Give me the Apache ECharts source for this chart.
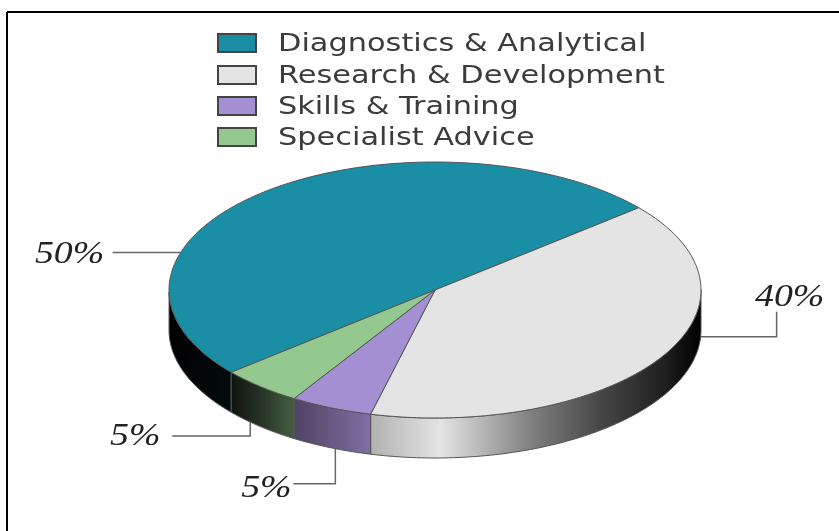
<!DOCTYPE html>
<html>
<head>
<meta charset="utf-8">
<style>
  html, body { margin: 0; padding: 0; background: #fff; }
  /* the reference is a soft, slightly upscaled image */
  #chart { width: 839px; height: 531px; filter: blur(0.6px); }
</style>
<script src="https://cdn.jsdelivr.net/npm/echarts@6/dist/echarts.min.js"></script>
</head>
<body>
<div id="chart"></div>
<script>
const categories = ['Diagnostics & Analytical', 'Research & Development', 'Skills & Training', 'Specialist Advice']
const shares = [50, 40, 5, 5]
const colors = ['#1a8ea4', '#e4e4e4', '#a48fd2', '#93c98f']

// pie geometry, the slices start at 220deg and run clockwise
const cx = 435
const cy = 290
const rx = 266
const ry = 128
const depth = 40
const startAngle = 220

// how much light the rim gets going left to right
const rimStops = [[0, 0], [0.11, 0.08], [0.17, 0.25], [0.24, 0.48], [0.38, 0.78], [0.51, 1], [0.68, 0.56], [0.81, 0.31], [0.93, 0.14], [0.98, 0.04], [1, 0]]

// leader lines: where they leave the pie, then offsets from that point
const leaders = [
  { angle: 163, rim: 0, path: [[-68, 0]], text: [-111, 2] },
  { angle: -3, rim: 1, path: [[76, 0], [76, -25]], text: [89, -39] },
  { angle: -112, rim: 1, path: [[0, 35], [-42, 35]], text: [-69, 40] },
  { angle: -134, rim: 1, path: [[0, 14], [-78, 14]], text: [-115, 15] }
]

// legend rows, drawn by hand because the source text is stretched wide
const legendBoxX = 218
const legendTextX = 278
const legendBoxY = [34, 66, 97, 128]
const legendTextY = [44, 76, 107, 138]

function point(deg, dy) {
  const a = deg * Math.PI / 180
  return [cx + rx * Math.cos(a), cy - ry * Math.sin(a) + (dy || 0)]
}

function shade(hex, k) {
  const n = parseInt(hex.slice(1), 16)
  const c = [n >> 16, (n >> 8) & 255, n & 255].map(v => Math.round(v * k))
  return 'rgb(' + c.join(',') + ')'
}

function renderSlice(params, api) {
  const i = params.seriesIndex
  const total = shares.reduce((a, b) => a + b, 0)
  const before = shares.slice(0, i).reduce((a, b) => a + b, 0)
  const a0 = startAngle - before / total * 360
  const a1 = a0 - api.value(0) / total * 360

  const arc = []
  for (let a = a0; a > a1; a -= 1) arc.push(point(a))
  arc.push(point(a1))

  // rim is only the part of the arc facing the viewer
  const front = []
  for (let a = a0; a > a1; a -= 1) {
    if (Math.sin(a * Math.PI / 180) <= 0) front.push(a)
  }
  if (Math.sin(a1 * Math.PI / 180) <= 0) front.push(a1)
  const rimTop = front.map(a => point(a))
  const rimBottom = front.map(a => point(a, depth)).reverse()

  const fill = new echarts.graphic.LinearGradient(cx - rx, 0, cx + rx, 0,
    rimStops.map(s => ({ offset: s[0], color: shade(colors[i], s[1]) })), true)

  const l = leaders[i]
  const from = point(l.angle, l.rim * depth)
  const line = [from].concat(l.path.map(p => [from[0] + p[0], from[1] + p[1]]))

  return {
    type: 'group',
    children: [
      {
        type: 'polyline',
        shape: { points: line },
        style: { stroke: '#666', lineWidth: 1.5, fill: null },
        z2: 1
      },
      {
        type: 'text',
        x: from[0] + l.text[0],
        y: from[1] + l.text[1],
        scaleX: 1.22,
        style: {
          text: api.value(0) + '%',
          font: 'italic 31px "Liberation Serif"',
          fill: '#222',
          align: 'center',
          verticalAlign: 'middle'
        },
        z2: 1
      },
      {
        type: 'polygon',
        shape: { points: rimTop.concat(rimBottom) },
        style: { fill: fill, stroke: '#555', lineWidth: 1 },
        z2: 2
      },
      {
        type: 'polygon',
        shape: { points: [[cx, cy]].concat(arc) },
        style: { fill: colors[i], stroke: '#555', lineWidth: 1 },
        z2: 3
      },
      {
        type: 'rect',
        shape: { x: legendBoxX + 1, y: legendBoxY[i] + 1, width: 38, height: 18 },
        style: { fill: '#999' },
        z2: 1
      },
      {
        type: 'rect',
        shape: { x: legendBoxX, y: legendBoxY[i], width: 38, height: 18 },
        style: { fill: colors[i], stroke: '#444', lineWidth: 2 },
        z2: 2
      },
      {
        type: 'text',
        x: legendTextX,
        y: legendTextY[i],
        scaleX: 1.215,
        style: {
          text: categories[i],
          font: '25px "DejaVu Sans"',
          fill: '#3c3c3c',
          align: 'left',
          verticalAlign: 'middle'
        },
        z2: 2
      }
    ]
  }
}

const myChart = echarts.init(document.getElementById('chart'), null, { renderer: 'canvas' })
myChart.setOption({
  animation: false,
  backgroundColor: '#fff',
  graphic: [
    { type: 'line', shape: { x1: 7, y1: 12, x2: 839, y2: 12 }, style: { stroke: '#000', lineWidth: 2 } },
    { type: 'line', shape: { x1: 7, y1: 12, x2: 7, y2: 531 }, style: { stroke: '#000', lineWidth: 2 } }
  ],
  series: categories.map((name, i) => ({
    type: 'custom',
    name: name,
    coordinateSystem: 'none',
    silent: true,
    clip: false,
    itemStyle: { color: colors[i] },
    renderItem: renderSlice,
    data: [[shares[i]]]
  }))
})
</script>
</body>
</html>
